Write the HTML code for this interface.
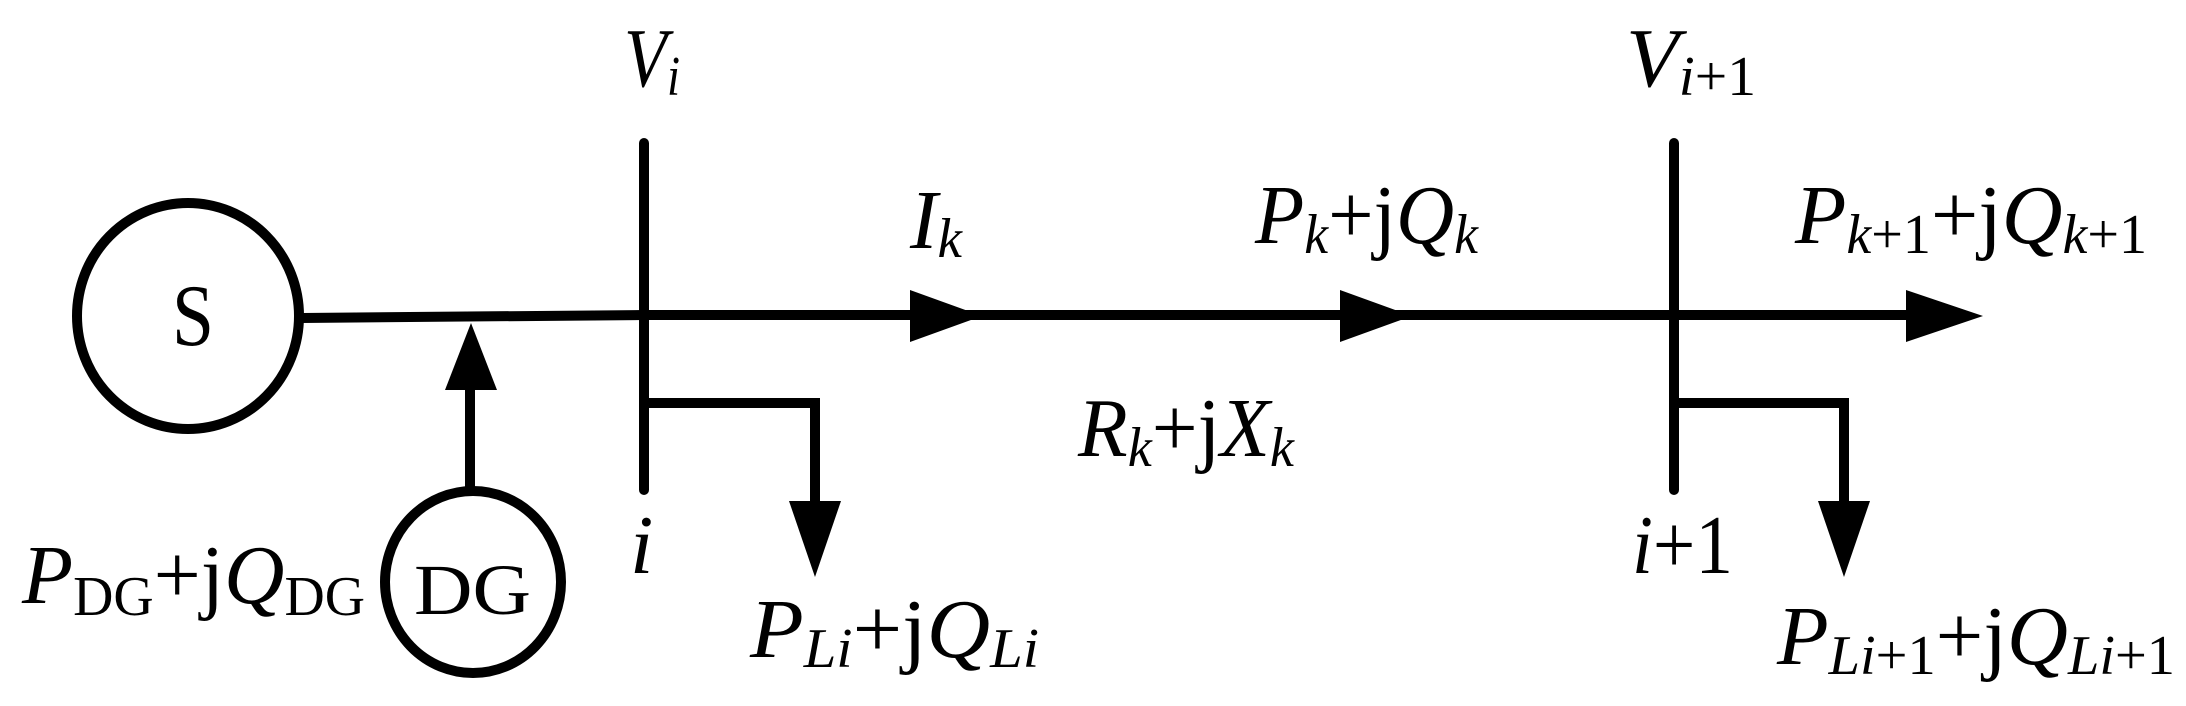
<!DOCTYPE html>
<html><head><meta charset="utf-8"><style>
html,body{margin:0;padding:0;background:#fff;}
svg{display:block;}
text{font-family:"Liberation Serif","Times New Roman",Times,serif;fill:#000;}
.it{font-style:italic;}
</style></head><body>
<svg width="2186" height="706" viewBox="0 0 2186 706" xmlns="http://www.w3.org/2000/svg" font-family="Liberation Serif, Times New Roman, serif">
<g stroke="#000" stroke-width="10" fill="none" stroke-linecap="round">
<ellipse cx="188" cy="316" rx="111" ry="113"/>
<ellipse cx="473" cy="582" rx="88" ry="91"/>
<line x1="302" y1="318" x2="644" y2="315"/>
<line x1="644" y1="315" x2="1950" y2="315"/>
<line x1="644" y1="143" x2="644" y2="490"/>
<line x1="1674" y1="143" x2="1674" y2="490"/>
<polyline points="644,403 815,403 815,505"/>
<polyline points="1674,403 1844,403 1844,505"/>
<line x1="470" y1="385" x2="470" y2="490"/>
</g>
<g fill="#000">
<polygon points="910,290 982,316 910,342"/>
<polygon points="1340,290 1412,316 1340,342"/>
<polygon points="1906,290 1983,316 1906,342"/>
<polygon points="789,501 841,501 815,577"/>
<polygon points="1818,501 1870,501 1844,577"/>
<polygon points="445,390 497,390 471,323"/>
</g>
<text x="172" y="345" font-size="88" textLength="42" lengthAdjust="spacingAndGlyphs">S</text>
<text x="414" y="614" font-size="72" textLength="117" lengthAdjust="spacingAndGlyphs">DG</text>
<text x="22" y="603" font-size="84" textLength="343" lengthAdjust="spacingAndGlyphs"><tspan class="it">P</tspan><tspan font-size="56" dy="12">DG</tspan><tspan dy="-12">+j</tspan><tspan class="it">Q</tspan><tspan font-size="56" dy="12">DG</tspan></text>
<text x="624" y="86" font-size="84" class="it" textLength="56" lengthAdjust="spacingAndGlyphs">V<tspan font-size="56" dy="9">i</tspan></text>
<text x="630" y="573" font-size="84" class="it">i</text>
<text x="910" y="248" font-size="84" class="it" textLength="52" lengthAdjust="spacingAndGlyphs">I<tspan font-size="56" dy="9">k</tspan></text>
<text x="750" y="657" font-size="84" textLength="289" lengthAdjust="spacingAndGlyphs"><tspan class="it">P</tspan><tspan class="it" font-size="56" dy="10">Li</tspan><tspan dy="-10">+j</tspan><tspan class="it">Q</tspan><tspan class="it" font-size="56" dy="10">Li</tspan></text>
<text x="1078" y="456" font-size="84" textLength="216" lengthAdjust="spacingAndGlyphs"><tspan class="it">R</tspan><tspan class="it" font-size="56" dy="10">k</tspan><tspan dy="-10">+j</tspan><tspan class="it">X</tspan><tspan class="it" font-size="56" dy="10">k</tspan></text>
<text x="1255" y="243" font-size="84" textLength="223" lengthAdjust="spacingAndGlyphs"><tspan class="it">P</tspan><tspan class="it" font-size="56" dy="10">k</tspan><tspan dy="-10">+j</tspan><tspan class="it">Q</tspan><tspan class="it" font-size="56" dy="10">k</tspan></text>
<text x="1795" y="243" font-size="84" textLength="352" lengthAdjust="spacingAndGlyphs"><tspan class="it">P</tspan><tspan font-size="56" dy="10"><tspan class="it">k</tspan>+1</tspan><tspan dy="-10">+j</tspan><tspan class="it">Q</tspan><tspan font-size="56" dy="10"><tspan class="it">k</tspan>+1</tspan></text>
<text x="1626" y="86" font-size="84" textLength="130" lengthAdjust="spacingAndGlyphs"><tspan class="it">V</tspan><tspan font-size="56" dy="9"><tspan class="it">i</tspan>+1</tspan></text>
<text x="1632" y="573" font-size="84" textLength="101" lengthAdjust="spacingAndGlyphs"><tspan class="it">i</tspan>+1</text>
<text x="1777" y="664" font-size="84" textLength="398" lengthAdjust="spacingAndGlyphs"><tspan class="it">P</tspan><tspan font-size="56" dy="10"><tspan class="it">Li</tspan>+1</tspan><tspan dy="-10">+j</tspan><tspan class="it">Q</tspan><tspan font-size="56" dy="10"><tspan class="it">Li</tspan>+1</tspan></text>
</svg>
</body></html>
